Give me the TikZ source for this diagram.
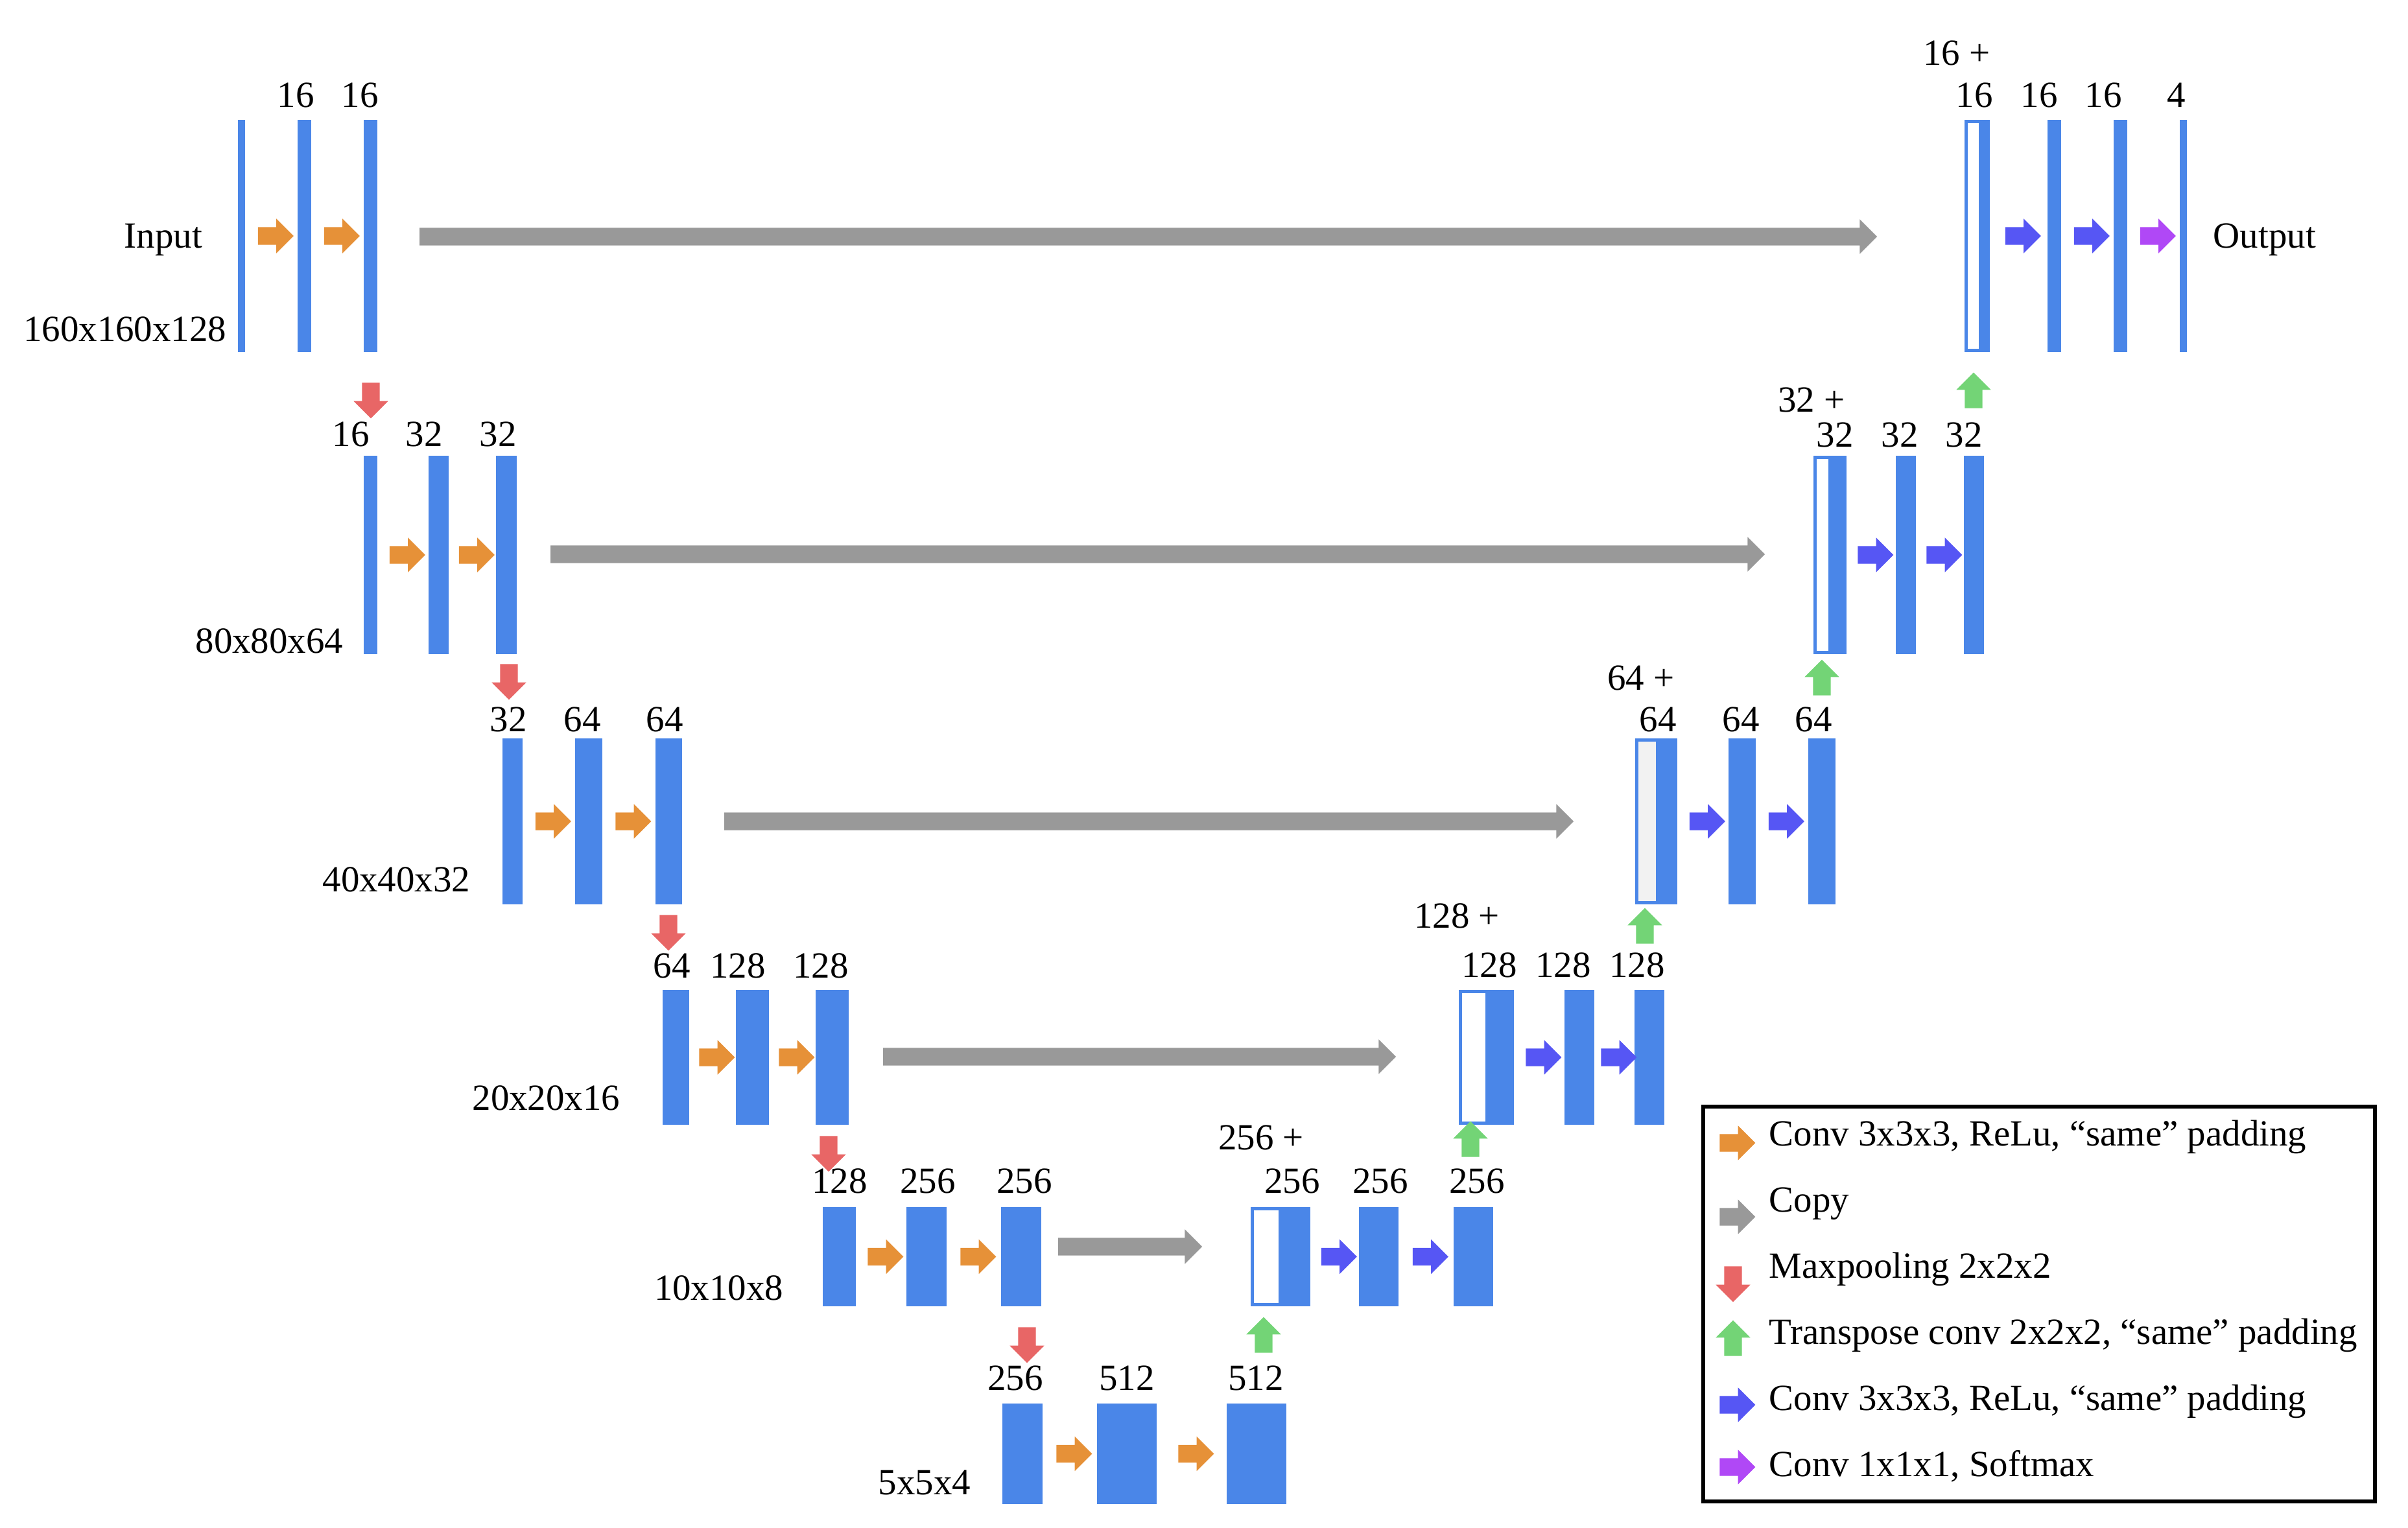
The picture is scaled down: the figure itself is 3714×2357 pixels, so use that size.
\documentclass[tikz,border=0pt]{standalone}
\usepackage{fontspec}
\setmainfont{Liberation Serif}
\usetikzlibrary{%
  fit,%
  shapes.arrows%
}
\definecolor{fmblue}{HTML}{4A86E8}
\definecolor{convorange}{HTML}{E69138}
\definecolor{copygray}{HTML}{999999}
\definecolor{poolred}{HTML}{E86666}
\definecolor{upgreen}{HTML}{73D476}
\definecolor{convblue}{HTML}{5656F4}
\definecolor{softpurple}{HTML}{B048F6}
\tikzset{>=latex, fm/.style = {fill=fmblue, inner sep=0pt, outer sep=0pt},
  skipbox/.style = {draw=fmblue, line width=0.45mm, fill=white, inner sep=0pt, outer sep=0pt},
  blk/.style = {single arrow, single arrow head extend=1.3mm, single arrow tip angle=90,
    minimum width=5.2mm, minimum height=5.5mm, inner xsep=0pt, inner ysep=1.3mm, outer sep=0pt},
  conv/.style = {blk, fill=convorange},
  dconv/.style = {blk, fill=convblue},
  soft/.style = {blk, fill=softpurple},
  copyarr/.style = {blk, fill=copygray},
  pool/.style = {blk, fill=poolred, rotate=-90},
  uparr/.style = {blk, fill=upgreen, rotate=90},
  legbox/.style = {draw=black, line width=0.6mm, inner sep=0pt},
  lbl/.style = {inner sep=0pt, anchor=base, font=\fontsize{16.2}{19}\selectfont}}

\begin{document}
\begin{tikzpicture}[x=0.1mm, y=-0.1mm]
    \useasboundingbox (0,0) rectangle (3714,2357);
    % encoder
    \node[fm, fit={(367,185) (378,543)}] (l1a) {};
    \node[fm, fit={(459,185) (480,543)}] (l1b) {};
    \node[fm, fit={(561,185) (582,543)}] (l1c) {};
    \node[fm, fit={(561,703) (582,1009)}] (l2a) {};
    \node[fm, fit={(661,703) (692,1009)}] (l2b) {};
    \node[fm, fit={(765,703) (797,1009)}] (l2c) {};
    \node[fm, fit={(775,1139) (806,1395)}] (l3a) {};
    \node[fm, fit={(887,1139) (929,1395)}] (l3b) {};
    \node[fm, fit={(1011,1139) (1052,1395)}] (l3c) {};
    \node[fm, fit={(1022,1527) (1063,1735)}] (l4a) {};
    \node[fm, fit={(1135,1527) (1186,1735)}] (l4b) {};
    \node[fm, fit={(1258,1527) (1309,1735)}] (l4c) {};
    \node[fm, fit={(1269,1862) (1320,2015)}] (l5a) {};
    \node[fm, fit={(1398,1862) (1460,2015)}] (l5b) {};
    \node[fm, fit={(1544,1862) (1606,2015)}] (l5c) {};
    \node[fm, fit={(1546,2165) (1608,2320)}] (l6a) {};
    \node[fm, fit={(1692,2165) (1784,2320)}] (l6b) {};
    \node[fm, fit={(1892,2165) (1984,2320)}] (l6c) {};
    % decoder
    \node[skipbox, fit={(1931.5,1864.5) (2018.5,2012.5)}] (r5s) {};
    \node[fm, fit={(1972,1862) (2021,2015)}] (r5a) {};
    \node[fm, fit={(2096,1862) (2157,2015)}] (r5b) {};
    \node[fm, fit={(2242,1862) (2303,2015)}] (r5c) {};
    \node[skipbox, fit={(2252.5,1529.5) (2332.5,1732.5)}] (r4s) {};
    \node[fm, fit={(2291,1527) (2335,1735)}] (r4a) {};
    \node[fm, fit={(2413,1527) (2459,1735)}] (r4b) {};
    \node[fm, fit={(2521,1527) (2567,1735)}] (r4c) {};
    \node[skipbox, fill=black!5, fit={(2524.5,1141.5) (2584.5,1392.5)}] (r3s) {};
    \node[fm, fit={(2554,1139) (2587,1395)}] (r3a) {};
    \node[fm, fit={(2666,1139) (2708,1395)}] (r3b) {};
    \node[fm, fit={(2789,1139) (2831,1395)}] (r3c) {};
    \node[skipbox, fit={(2799.5,705.5) (2845.5,1006.5)}] (r2s) {};
    \node[fm, fit={(2820,703) (2848,1009)}] (r2a) {};
    \node[fm, fit={(2924,703) (2955,1009)}] (r2b) {};
    \node[fm, fit={(3029,703) (3060,1009)}] (r2c) {};
    \node[skipbox, fit={(3032.5,187.5) (3066.5,540.5)}] (r1s) {};
    \node[fm, fit={(3052,185) (3069,543)}] (r1a) {};
    \node[fm, fit={(3158,185) (3179,543)}] (r1b) {};
    \node[fm, fit={(3260,185) (3281,543)}] (r1c) {};
    \node[fm, fit={(3362,185) (3373,543)}] (r1d) {};
    % convolutions
    \path (l1a) -- node[conv] (a11) {} (l1b);
    \path (l1b) -- node[conv] (a12) {} (l1c);
    \path (l2a) -- node[conv] (a21) {} (l2b);
    \path (l2b) -- node[conv] (a22) {} (l2c);
    \path (l3a) -- node[conv] (a31) {} (l3b);
    \path (l3b) -- node[conv] (a32) {} (l3c);
    \path (l4a) -- node[conv] (a41) {} (l4b);
    \path (l4b) -- node[conv] (a42) {} (l4c);
    \path (l5a) -- node[conv] (a51) {} (l5b);
    \path (l5b) -- node[conv] (a52) {} (l5c);
    \path (l6a) -- node[conv] (a61) {} (l6b);
    \path (l6b) -- node[conv] (a62) {} (l6c);
    \path (r5a) -- node[dconv] (b51) {} (r5b);
    \path (r5b) -- node[dconv] (b52) {} (r5c);
    \path (r4a) -- node[dconv] (b41) {} (r4b);
    \path (r4b) -- node[dconv] (b42) {} (r4c);
    \path (r3a) -- node[dconv] (b31) {} (r3b);
    \path (r3b) -- node[dconv] (b32) {} (r3c);
    \path (r2a) -- node[dconv] (b21) {} (r2b);
    \path (r2b) -- node[dconv] (b22) {} (r2c);
    \path (r1a) -- node[dconv] (b11) {} (r1b);
    \path (r1b) -- node[dconv] (b12) {} (r1c);
    \path (r1c) -- node[soft] (b13) {} (r1d);
    % copies
    \node[copyarr, minimum height=224.8mm, anchor=tail] (c1) at (647,365) {};
    \node[copyarr, minimum height=187.3mm, anchor=tail] (c2) at (849,855) {};
    \node[copyarr, minimum height=131mm, anchor=tail] (c3) at (1117,1267) {};
    \node[copyarr, minimum height=79.1mm, anchor=tail] (c4) at (1362,1630) {};
    \node[copyarr, minimum height=22.2mm, anchor=tail] (c5) at (1632,1923) {};
    % pooling and transpose conv
    \node[pool] (p1) at (572,611) {};
    \node[pool] (p2) at (785,1045) {};
    \node[pool] (p3) at (1031,1432) {};
    \node[pool] (p4) at (1278,1773) {};
    \node[pool] (p5) at (1584,2068) {};
    \node[uparr] (u5) at (1949,2066) {};
    \node[uparr] (u4) at (2268,1764) {};
    \node[uparr] (u3) at (2537,1435) {};
    \node[uparr] (u2) at (2810,1052) {};
    \node[uparr] (u1) at (3044,609) {};
    % sizes
    \node[lbl, anchor=base west] (tin) at (191,383) {Input};
    \node[lbl, anchor=base west] (tout) at (3413,383) {Output};
    \node[lbl, anchor=base east] (s1) at (350,527) {160x160x128};
    \node[lbl, anchor=base east] (s2) at (530,1007) {80x80x64};
    \node[lbl, anchor=base east] (s3) at (726,1375) {40x40x32};
    \node[lbl, anchor=base east] (s4) at (957,1712) {20x20x16};
    \node[lbl, anchor=base east] (s5) at (1209,2005) {10x10x8};
    \node[lbl, anchor=base east] (s6) at (1498,2305) {5x5x4};
    % channels
    \node[lbl] (n1b) at (456,166) {16};
    \node[lbl] (n1c) at (555,166) {16};
    \node[lbl] (n2a) at (541,689) {16};
    \node[lbl] (n2b) at (654,689) {32};
    \node[lbl] (n2c) at (768,689) {32};
    \node[lbl] (n3a) at (784,1128) {32};
    \node[lbl] (n3b) at (898,1128) {64};
    \node[lbl] (n3c) at (1025,1128) {64};
    \node[lbl] (n4a) at (1036,1508) {64};
    \node[lbl] (n4b) at (1138,1508) {128};
    \node[lbl] (n4c) at (1266,1508) {128};
    \node[lbl] (n5a) at (1295,1840) {128};
    \node[lbl] (n5b) at (1431,1840) {256};
    \node[lbl] (n5c) at (1580,1840) {256};
    \node[lbl] (n6a) at (1566,2144) {256};
    \node[lbl] (n6b) at (1738,2144) {512};
    \node[lbl] (n6c) at (1937,2144) {512};
    \node[lbl] (m5s) at (1945,1773) {256 +};
    \node[lbl] (m5a) at (1993,1840) {256};
    \node[lbl] (m5b) at (2129,1840) {256};
    \node[lbl] (m5c) at (2278,1840) {256};
    \node[lbl] (m4s) at (2247,1431) {128 +};
    \node[lbl] (m4a) at (2297,1507) {128};
    \node[lbl] (m4b) at (2411,1507) {128};
    \node[lbl] (m4c) at (2525,1507) {128};
    \node[lbl] (m3s) at (2531,1064) {64 +};
    \node[lbl] (m3a) at (2557,1128) {64};
    \node[lbl] (m3b) at (2685,1128) {64};
    \node[lbl] (m3c) at (2797,1128) {64};
    \node[lbl] (m2s) at (2794,636) {32 +};
    \node[lbl] (m2a) at (2830,690) {32};
    \node[lbl] (m2b) at (2930,690) {32};
    \node[lbl] (m2c) at (3029,690) {32};
    \node[lbl] (m1s) at (3018,101) {16 +};
    \node[lbl] (m1a) at (3045,166) {16};
    \node[lbl] (m1b) at (3145,166) {16};
    \node[lbl] (m1c) at (3244,166) {16};
    \node[lbl] (m1d) at (3357,166) {4};
    % legend
    \node[legbox, fit={(2627,1707) (3663,2316)}] (leg) {};
    \node[conv] (k1) at (2673,1763) {};
    \node[copyarr] (k2) at (2673,1877) {};
    \node[pool] (k3) at (2673,1974) {};
    \node[uparr] (k4) at (2673,2071) {};
    \node[dconv] (k5) at (2673,2167) {};
    \node[soft] (k6) at (2673,2263) {};
    \node[lbl, anchor=base west] (k1t) at (2728,1767) {Conv 3x3x3, ReLu, “same” padding};
    \node[lbl, anchor=base west] (k2t) at (2728,1869) {Copy};
    \node[lbl, anchor=base west] (k3t) at (2728,1971) {Maxpooling 2x2x2};
    \node[lbl, anchor=base west] (k4t) at (2728,2073) {Transpose conv 2x2x2, “same” padding};
    \node[lbl, anchor=base west] (k5t) at (2728,2175) {Conv 3x3x3, ReLu, “same” padding};
    \node[lbl, anchor=base west] (k6t) at (2728,2277) {Conv 1x1x1, Softmax};
\end{tikzpicture}
\end{document}
